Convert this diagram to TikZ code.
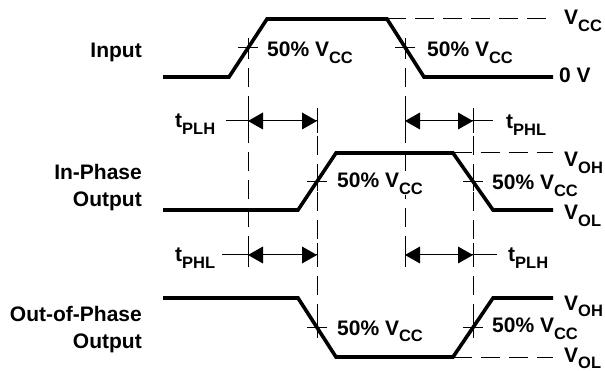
\documentclass[tikz,border=0pt]{standalone}
\usepackage{fontspec}
\setmainfont{Liberation Sans}
\usetikzlibrary{arrows.meta}
\newcommand{\sbs}[1]{\raisebox{-6.5pt}{\fontsize{16.5}{16.5}\selectfont #1}}
\begin{document}
\begin{tikzpicture}[x=1pt,y=-1pt,
  wave/.style={line width=3.6pt,line join=miter},
  guide/.style={line width=1pt,dash pattern=on 19pt off 9pt},
  tickln/.style={line width=1pt},
  lbl/.style={font=\fontsize{21}{27}\selectfont\bfseries,inner sep=0pt},
  dim/.style={line width=1pt},
  head/.style={fill=black}]
\useasboundingbox (0,0) rectangle (605,371);

% crossing points
\coordinate (iA) at (248,48);
\coordinate (iC) at (405,48);
\coordinate (pB) at (317,181.5);
\coordinate (pD) at (473,181.5);
\coordinate (oB) at (317,327.5);
\coordinate (oD) at (473,327.5);

% waveforms
\draw[wave] (163,77) -- (229,77) -- (267,19) -- (387,19) -- (424,77) -- (553,77);
\draw[wave] (163,210) -- (298,210) -- (336,153) -- (453,153) -- (493,210) -- (553,210);
\draw[wave] (163,298) -- (298,298) -- (336,357) -- (453,357) -- (493,298) -- (553,298);

% reference levels
\draw[guide] (387,19) -- (553,19);
\draw[guide] (453,153) -- (553,153);
\draw[guide] (453,357) -- (553,357);

% vertical guides
\coordinate (A1) at (248,121); \coordinate (A2) at (248,255);
\coordinate (B1) at (317,121); \coordinate (B2) at (317,255);
\coordinate (C1) at (405,121); \coordinate (C2) at (405,255);
\coordinate (D1) at (473,121); \coordinate (D2) at (473,255);

\draw[guide] (248,40) -- (248,266);
\draw[guide] (405,40) -- (405,266);
\draw[guide] (317,108) -- (317,337);
\draw[guide] (473,108) -- (473,337);

% crosshair ticks
\foreach \p in {iA,iC,pB,pD,oB,oD}{
  \draw[tickln] ([xshift=-10pt]\p) -- ([xshift=10pt]\p);
  \draw[tickln] ([yshift=-10pt]\p) -- ([yshift=10pt]\p);
}
% ticks at arrow ends
\foreach \p in {A1,A2,B1,B2,C1,C2,D1,D2}{
  \draw[tickln] ([yshift=-12pt]\p) -- ([yshift=12pt]\p);
}

% dimension arrows (line + filled heads pointing outward)
\foreach \s/\e in {A1/B1,C1/D1,A2/B2,C2/D2}{
  \draw[dim] (\s) -- (\e);
  \fill[head] (\s) -- ++(15,-8.5) -- ++(0,17) -- cycle;
  \fill[head] (\e) -- ++(-15,-8.5) -- ++(0,17) -- cycle;
}

% timing labels with leaders
\node[lbl,anchor=base west] (tplh1) at (175,128) {t\sbs{PLH}};
\draw[tickln] (226,121) -- (A1);
\node[lbl,anchor=base west] (tphl1) at (506,129) {t\sbs{PHL}};
\draw[tickln] (D1) -- (493,121);
\node[lbl,anchor=base west] (tphl2) at (175,262) {t\sbs{PHL}};
\draw[tickln] (222,255) -- (A2);
\node[lbl,anchor=base west] (tplh2) at (508,262) {t\sbs{PLH}};
\draw[tickln] (D2) -- (497,255);

% 50% labels
\node[lbl,anchor=base west] (l1) at (267,57) {50\% V\sbs{CC}};
\node[lbl,anchor=base west] (l2) at (427,57) {50\% V\sbs{CC}};
\node[lbl,anchor=base west,fill=white] (l3) at (337,188) {50\% V\sbs{CC}};
\node[lbl,anchor=base west] (l4) at (492,190) {50\% V\sbs{CC}};
\node[lbl,anchor=base west] (l5) at (337,335) {50\% V\sbs{CC}};
\node[lbl,anchor=base west] (l6) at (492,333) {50\% V\sbs{CC}};

% level labels
\node[lbl,anchor=base west] (vcc) at (564,25) {V\sbs{CC}};
\node[lbl,anchor=base west] (zero) at (559,83) {0 V};
\node[lbl,anchor=base west] (voh1) at (564,167) {V\sbs{OH}};
\node[lbl,anchor=base west] (vol1) at (564,220) {V\sbs{OL}};
\node[lbl,anchor=base west] (voh2) at (564,310) {V\sbs{OH}};
\node[lbl,anchor=base west] (vol2) at (564,362) {V\sbs{OL}};

% signal names
\node[lbl,anchor=base east] (input) at (142,58) {Input};
\node[lbl,anchor=east,align=right] (inph) at (142,188) {In-Phase\\Output};
\node[lbl,anchor=east,align=right] (outph) at (142,329.5) {Out-of-Phase\\Output};
\end{tikzpicture}
\end{document}
